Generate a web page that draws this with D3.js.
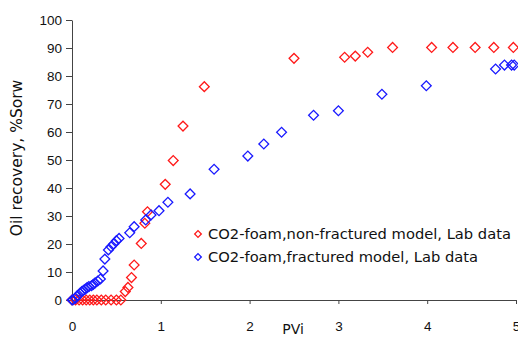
<!DOCTYPE html>
<html>
<head>
<meta charset="utf-8">
<script src="https://cdn.jsdelivr.net/npm/d3@7"></script>
<style>
  body { margin: 0; background: #fff; }
  svg { display: block; font-family: "DejaVu Sans", sans-serif; }
</style>
</head>
<body>
<svg id="chart"></svg>
<script>
const width = 518;
const height = 337;
const margin = {top: 20, right: 2, bottom: 37, left: 72};

// non-fractured model, lab data
const nonFracPVi = [0, 0.04, 0.08, 0.12, 0.16, 0.2, 0.24, 0.28, 0.33, 0.38, 0.44, 0.5, 0.55,
    0.6, 0.63, 0.67, 0.7, 0.78, 0.82, 0.85, 1.05, 1.14, 1.25, 1.49,
    2.5, 3.07, 3.19, 3.33, 3.61, 4.05, 4.29, 4.54, 4.75, 4.97];
const nonFracRec = [0, 0, 0, 0, 0, 0, 0, 0, 0, 0, 0, 0, 0,
    3, 4.5, 8, 12.5, 20.2, 27.4, 31.5, 41.3, 49.8, 62.1, 76.2,
    86.3, 86.7, 87.1, 88.5, 90.2, 90.2, 90.2, 90.2, 90.2, 90.2];

// fractured model, lab data
const fracPVi = [0, 0.01, 0.04, 0.06, 0.09, 0.11, 0.13, 0.15, 0.17, 0.19, 0.22, 0.24, 0.26,
    0.29, 0.32, 0.35, 0.37, 0.41, 0.44, 0.47, 0.5, 0.53, 0.65, 0.7, 0.83, 0.89, 0.98,
    1.08, 1.33, 1.6, 1.98, 2.16, 2.36, 2.72, 3.0, 3.49, 3.99, 4.77, 4.87, 4.95, 4.98];
const fracRec = [0, 0, 0.6, 1.5, 2.4, 3.0, 3.5, 3.9, 4.4, 4.8, 5.1, 5.6, 6.1,
    6.8, 7.5, 10.4, 14.6, 17.9, 19, 20, 21.2, 22, 24, 26.2, 28.6, 30.4, 31.9,
    34.9, 37.9, 46.7, 51.4, 55.7, 59.9, 66, 67.6, 73.5, 76.5, 82.5, 83.9, 83.9, 83.9];

const xTicks = [0, 1, 2, 3, 4, 5];
const yTicks = [0, 10, 20, 30, 40, 50, 60, 70, 80, 90, 100];

const seriesNames = ["CO2-foam,non-fractured model, Lab data", "CO2-foam,fractured model, Lab data"];
const seriesColors = ["#ff1a1a", "#1a1aff"];

const series = [
    {name: seriesNames[0], color: seriesColors[0], values: nonFracPVi.map((x, i) => ({x, y: nonFracRec[i]}))},
    {name: seriesNames[1], color: seriesColors[1], values: fracPVi.map((x, i) => ({x, y: fracRec[i]}))}
];

const svg = d3.select("#chart").attr("width", width).attr("height", height);

const x = d3.scaleLinear().domain([0, 5]).range([margin.left, width - margin.right]);
const y = d3.scaleLinear().domain([0, 100]).range([height - margin.bottom, margin.top]);

const diamond = d3.symbol(d3.symbolSquare).size(48);

let xAxis = (g) => g
    .attr("transform", `translate(0, ${y(0)})`)
    .call(d3.axisBottom(x).tickValues(xTicks).tickSize(4).tickPadding(17).tickFormat(d3.format("d")))
    .call(g => g.selectAll("line, path").attr("stroke", "#444"))
    .call(g => g.selectAll("text").attr("fill", "#111").style("font-size", "13.5px"));

let yAxis = (g) => g
    .attr("transform", `translate(${margin.left}, 0)`)
    .call(d3.axisLeft(y).tickValues(yTicks).tickSize(6).tickPadding(4).tickSizeOuter(0))
    .call(g => g.selectAll("line, path").attr("stroke", "#444"))
    .call(g => g.selectAll("text").attr("fill", "#111").style("font-size", "13.5px"));

svg.append("g").call(xAxis);
svg.append("g").call(yAxis);

// points
series.forEach(s => {
    svg.append("g")
        .attr("fill", "none")
        .attr("stroke", s.color)
        .attr("stroke-width", 1.3)
        .selectAll("path")
            .data(s.values)
        .enter().append("path")
            .attr("d", diamond)
            .attr("transform", d => `translate(${x(d.x)},${y(d.y)}) rotate(45)`);
});

// axis titles
svg.append("text")
    .attr("x", 293)
    .attr("y", 334)
    .attr("text-anchor", "middle")
    .attr("fill", "#111")
    .style("font-size", "14px")
    .text("PVi");

svg.append("text")
    .attr("transform", "translate(22, 158) rotate(-90)")
    .attr("text-anchor", "middle")
    .attr("fill", "#111")
    .style("font-size", "15.5px")
    .text("Oil recovery, %Sorw");

// legend
const legend = svg.append("g").attr("transform", "translate(198, 234)");
series.forEach((s, i) => {
    const row = legend.append("g").attr("transform", `translate(0, ${i * 23})`);
    row.append("path")
        .attr("d", d3.symbol(d3.symbolSquare).size(22))
        .attr("transform", "rotate(45)")
        .attr("fill", "none")
        .attr("stroke", s.color)
        .attr("stroke-width", 1.3);
    row.append("text")
        .attr("x", 10)
        .attr("dy", "0.35em")
        .attr("fill", "#111")
        .style("font-size", "14.7px")
        .text(s.name);
});
</script>
</body>
</html>
